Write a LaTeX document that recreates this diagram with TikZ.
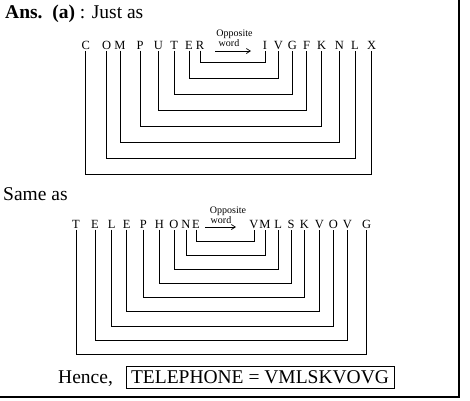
\documentclass[tikz,border=0pt]{standalone}
\usepackage{fontspec}
\setmainfont{Liberation Serif}
\usetikzlibrary{arrows.meta}
\tikzset{
  letter/.style={anchor=base,inner sep=1.5pt,font=\fontsize{12.5}{14}\selectfont},
  small/.style={anchor=base,inner sep=0pt,font=\fontsize{10}{11}\selectfont},
  big/.style={anchor=base west,inner sep=0pt,font=\fontsize{19.5}{22}\selectfont},
  link/.style={line width=0.8pt},
  frame/.style={line width=1.4pt},
  oparrow/.style={line width=0.7pt,-{Straight Barb[length=4pt,width=5pt]}}
}
\begin{document}
\begin{tikzpicture}[x=1pt,y=-1pt]
\useasboundingbox (0,0) rectangle (470,400);
\draw[frame] (459,0) coordinate (f1) -- (459,397) coordinate (f2) -- (0,397) coordinate (f3);
% headings
\node[big] (ans) at (5,18) {\textbf{Ans.\ \ (a)} : Just as};
\node[big] (same) at (3,200) {Same as};
\node[big] (hence) at (58,383) {Hence,};
\node[draw,line width=0.8pt,inner xsep=5pt,inner ysep=4pt,text height=13.5pt,text depth=0.5pt,
      font=\fontsize{19.5}{22}\selectfont] (ans2) at (260,377) {TELEPHONE = VMLSKVOVG};
% top row
\foreach \n/\l/\x in {tC/C/85.7,tO/O/106.7,tM/M/120,tP/P/140,tU/U/158.3,tT/T/174.3,tE/E/189,tR/R/200,
  tI/I/265,tV/V/278.3,tG/G/292.3,tF/F/306.7,tK/K/321.7,tN/N/339.3,tL/L/355,tX/X/371.7}
  \node[letter] (\n) at (\x,49) {\l};
\foreach \a/\b/\y in {tR/tI/62.3,tE/tV/78.3,tT/tG/94.3,tU/tF/110,tP/tK/126.7,tM/tN/142.3,tO/tL/158.3,tC/tX/174.3}
  \draw[link] (\a.south) -- (\a.south |- 0,\y) -| (\b.south);
\node[small] (op1) at (234.5,36) {Opposite};
\node[small] (wd1) at (229,46.5) {word};
\coordinate (a1s) at (215,51);
\coordinate (a1e) at (251,51);
\draw[oparrow] (a1s) -- (a1e);
% bottom row
\foreach \n/\l/\x in {bT/T/76,bEa/E/95,bLa/L/111.7,bEb/E/126.7,bP/P/143.3,bH/H/159.3,bOa/O/174,bN/N/186,bEc/E/196,
  bVa/V/254,bM/M/265,bLb/L/278.3,bS/S/291,bK/K/304.3,bVb/V/319.3,bOb/O/333.3,bVc/V/347.3,bG/G/366.7}
  \node[letter] (\n) at (\x,228) {\l};
\foreach \a/\b/\y in {bEc/bVa/241.7,bN/bM/255,bOa/bLb/269.3,bH/bS/283.3,bP/bK/297.3,bEb/bVb/311.7,bLa/bOb/326,bEa/bVc/340.7,bT/bG/354}
  \draw[link] (\a.south) -- (\a.south |- 0,\y) -| (\b.south);
\node[small] (op2) at (228,213) {Opposite};
\node[small] (wd2) at (221,223.5) {word};
\coordinate (a2s) at (205,227);
\coordinate (a2e) at (236,227);
\draw[oparrow] (a2s) -- (a2e);
\end{tikzpicture}
\end{document}
